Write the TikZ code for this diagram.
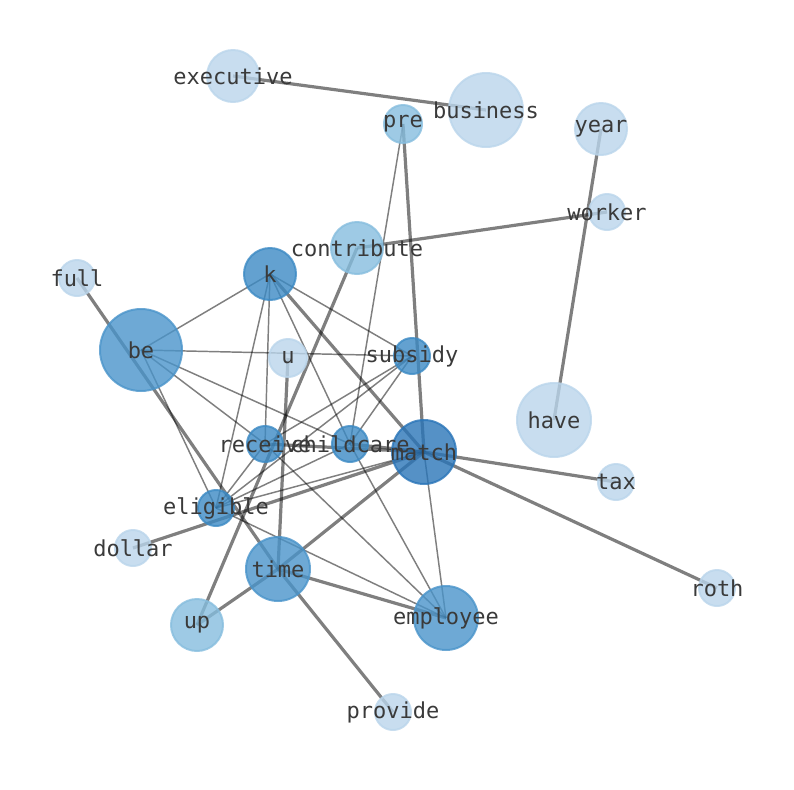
\documentclass[tikz,border=0pt]{standalone}
\usepackage{fontspec}
\setmonofont{DejaVu Sans Mono}
\definecolor{cLight}{HTML}{BAD5EB}
\definecolor{cMid}{HTML}{86BDDE}
\definecolor{cBlue}{HTML}{4A94CA}
\definecolor{cBlueB}{HTML}{3C8AC4}
\definecolor{cDark}{HTML}{2A75B8}
\definecolor{labelgray}{HTML}{3A3A3A}
\newcommand\gcircle[3]{\node[gcirc, fill=#3, draw=#3, minimum size=#2*1.5pt] (#1-c) at (#1) {};}
\newcommand\glab[2]{\node[glabel] (#1-l) at (#1) {#2};}
\begin{document}
\begin{tikzpicture}[x=0.75pt,y=-0.75pt,
  edgethin/.style={draw=black, draw opacity=0.5, line width=1.1pt},
  edgethick/.style={draw=black, draw opacity=0.5, line width=2.4pt},
  gcirc/.style={circle, inner sep=0pt, fill opacity=0.8, draw opacity=0.8, line width=1.5pt},
  glabel/.style={font=\ttfamily\fontsize{16.5}{18}\selectfont, text=labelgray, inner sep=0pt}]
\useasboundingbox (0,0) rectangle (794,790);
% node positions
\coordinate (executive) at (233,76);
\coordinate (business) at (486,110);
\coordinate (pre) at (403,124);
\coordinate (year) at (601,129);
\coordinate (worker) at (607,212);
\coordinate (contribute) at (357,248);
\coordinate (full) at (77,278);
\coordinate (k) at (270,274);
\coordinate (be) at (141,350);
\coordinate (u) at (288,358);
\coordinate (subsidy) at (412,356);
\coordinate (have) at (554,420);
\coordinate (receive) at (265,444);
\coordinate (childcare) at (350,444);
\coordinate (match) at (424,452);
\coordinate (tax) at (616,482);
\coordinate (eligible) at (216,508);
\coordinate (dollar) at (133,548);
\coordinate (time) at (278,569);
\coordinate (up) at (197,625);
\coordinate (employee) at (446,618);
\coordinate (roth) at (717,588);
\coordinate (provide) at (393,712);
% thin edges
\draw[edgethin] (pre) -- (childcare);
\draw[edgethin] (be) -- (k);
\draw[edgethin] (be) -- (subsidy);
\draw[edgethin] (be) -- (receive);
\draw[edgethin] (be) -- (childcare);
\draw[edgethin] (be) -- (eligible);
\draw[edgethin] (k) -- (subsidy);
\draw[edgethin] (k) -- (receive);
\draw[edgethin] (k) -- (eligible);
\draw[edgethin] (k) -- (childcare);
\draw[edgethin] (subsidy) -- (receive);
\draw[edgethin] (subsidy) -- (eligible);
\draw[edgethin] (subsidy) -- (childcare);
\draw[edgethin] (eligible) -- (receive);
\draw[edgethin] (eligible) -- (childcare);
\draw[edgethin] (eligible) -- (match);
\draw[edgethin] (eligible) -- (employee);
\draw[edgethin] (receive) -- (employee);
\draw[edgethin] (childcare) -- (employee);
\draw[edgethin] (match) -- (employee);
% thick edges
\draw[edgethick] (executive) -- (business);
\draw[edgethick] (year) -- (have);
\draw[edgethick] (worker) -- (contribute);
\draw[edgethick] (contribute) -- (up);
\draw[edgethick] (pre) -- (match);
\draw[edgethick] (k) -- (match);
\draw[edgethick] (full) -- (time);
\draw[edgethick] (time) -- (provide);
\draw[edgethick] (u) -- (time);
\draw[edgethick] (time) -- (match);
\draw[edgethick] (time) -- (up);
\draw[edgethick] (time) -- (employee);
\draw[edgethick] (dollar) -- (match);
\draw[edgethick] (match) -- (tax);
\draw[edgethick] (match) -- (roth);
\draw[edgethick] (receive) -- (match);
\draw[edgethick] (childcare) -- (match);
% node circles (radius in px)
\gcircle{executive}{26}{cLight}
\gcircle{business}{37}{cLight}
\gcircle{pre}{19}{cMid}
\gcircle{year}{26}{cLight}
\gcircle{worker}{18}{cLight}
\gcircle{contribute}{26}{cMid}
\gcircle{full}{18}{cLight}
\gcircle{k}{26}{cBlueB}
\gcircle{be}{41}{cBlue}
\gcircle{u}{19}{cLight}
\gcircle{subsidy}{18}{cBlueB}
\gcircle{have}{37}{cLight}
\gcircle{receive}{18}{cBlueB}
\gcircle{childcare}{18}{cBlueB}
\gcircle{match}{32}{cDark}
\gcircle{tax}{18}{cLight}
\gcircle{eligible}{18}{cBlueB}
\gcircle{dollar}{18}{cLight}
\gcircle{time}{32}{cBlue}
\gcircle{up}{26}{cMid}
\gcircle{employee}{32}{cBlue}
\gcircle{roth}{18}{cLight}
\gcircle{provide}{18}{cLight}
% labels
\glab{executive}{executive}
\glab{business}{business}
\glab{pre}{pre}
\glab{year}{year}
\glab{worker}{worker}
\glab{contribute}{contribute}
\glab{full}{full}
\glab{k}{k}
\glab{be}{be}
\glab{u}{u}
\glab{subsidy}{subsidy}
\glab{have}{have}
\glab{receive}{receive}
\glab{childcare}{childcare}
\glab{match}{match}
\glab{tax}{tax}
\glab{eligible}{eligible}
\glab{dollar}{dollar}
\glab{time}{time}
\glab{up}{up}
\glab{employee}{employee}
\glab{roth}{roth}
\glab{provide}{provide}
\end{tikzpicture}
\end{document}
